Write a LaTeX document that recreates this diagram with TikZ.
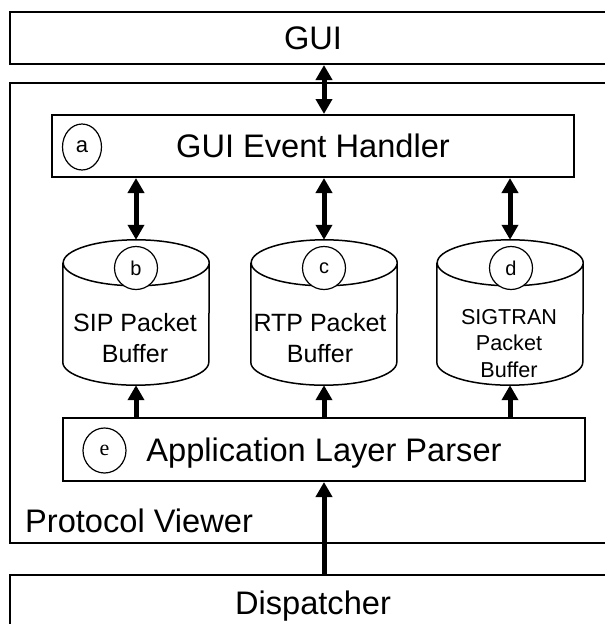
\documentclass[tikz,border=0pt]{standalone}
\usepackage{fontspec}
\setmainfont{Liberation Sans}
\newfontfamily\tagserif{Liberation Serif}
\usetikzlibrary{arrows.meta,shapes.geometric}
\tikzset{
  layerbox/.style={draw, line width=2pt, minimum height=52pt, inner sep=0pt, text depth=0pt, font=\fontsize{32.6}{39}\selectfont},
  layerlabel/.style={inner sep=0pt, font=\fontsize{32.6}{39}\selectfont},
  buffer/.style={minimum width=146pt, minimum height=145pt, inner sep=0pt},
  bufline/.style={line width=1.5pt},
  buftext/.style={align=center, inner sep=0pt, font=\fontsize{25}{31}\selectfont},
  tag/.style={draw, ellipse, line width=1.2pt, fill=white, inner sep=0pt, font=\fontsize{20}{24}\selectfont},
  biarrow/.style={{Triangle[length=15pt,width=16pt]}-{Triangle[length=15pt,width=16pt]}, line width=5pt},
  uparrow/.style={-{Triangle[length=15pt,width=16pt]}, line width=5pt}
}
\begin{document}
\begin{tikzpicture}[x=1pt, y=-1pt]
  \useasboundingbox (0,0) rectangle (605,624);
  \clip (0,0) rectangle (605,624);
  % layers
  \node[layerbox, minimum width=606pt] (gui) at (313,38) {GUI};
  \node[layerbox, minimum width=606pt, minimum height=460pt] (viewer) at (313,313) {};
  \node[layerbox, minimum width=606pt, minimum height=56pt] (dispatcher) at (313,603) {Dispatcher};
  \node[layerlabel, anchor=base west] (viewername) at (25,532) {Protocol Viewer};
  % inside the viewer
  \node[layerbox, minimum width=522pt, minimum height=62pt] (handler) at (313,146) {GUI Event Handler};
  \node[layerbox, minimum width=522pt, minimum height=63pt] (parser) at (324,449.5) {Application Layer Parser};
  \node[buffer] (bufb) at (136,312.5) {};
  \node[buffer] (bufc) at (324,312.5) {};
  \node[buffer] (bufd) at (510,312.5) {};
  \foreach \buf in {bufb,bufc,bufd}
    \draw[bufline] ([yshift=-23pt]\buf.north west) -- ([yshift=23pt]\buf.south west)
      arc[start angle=180, end angle=360, x radius=73pt, y radius=23pt]
      -- ([yshift=-23pt]\buf.north east)
      arc[start angle=0, end angle=360, x radius=73pt, y radius=23pt];
  \node[buftext] (siptext) at (135,338) {SIP Packet\\Buffer};
  \node[buftext] (rtptext) at (320,338) {RTP Packet\\Buffer};
  \node[buftext, font=\fontsize{21.6}{26.5}\selectfont] (sigtext) at (509,343.5) {SIGTRAN\\Packet\\Buffer};
  % tags
  \node[tag, minimum width=39pt, minimum height=46pt, font=\fontsize{22}{26}\selectfont] (taga) at (82,147) {a};
  \node[tag, minimum size=43pt] (tagb) at (136,268) {b};
  \node[tag, minimum size=43pt] (tagc) at (324,268) {c};
  \node[tag, minimum size=43pt] (tagd) at (511,268) {d};
  \node[tag, minimum width=43pt, minimum height=45pt, font=\tagserif\fontsize{22}{26}\selectfont] (tage) at (104.5,450.5) {e};
  % arrows
  \draw[biarrow] (gui.south -| bufc) -- (handler.north -| bufc);
  \draw[biarrow] (handler.south -| bufb) -- (bufb.north);
  \draw[biarrow] (handler.south -| bufc) -- (bufc.north);
  \draw[biarrow] (handler.south -| bufd) -- (bufd.north);
  \draw[uparrow] (parser.north -| bufb) -- (bufb.south);
  \draw[uparrow] (parser.north -| bufc) -- (bufc.south);
  \draw[uparrow] (parser.north -| bufd) -- (bufd.south);
  \draw[uparrow] (dispatcher.north -| bufc) -- (parser.south -| bufc);
\end{tikzpicture}
\end{document}
